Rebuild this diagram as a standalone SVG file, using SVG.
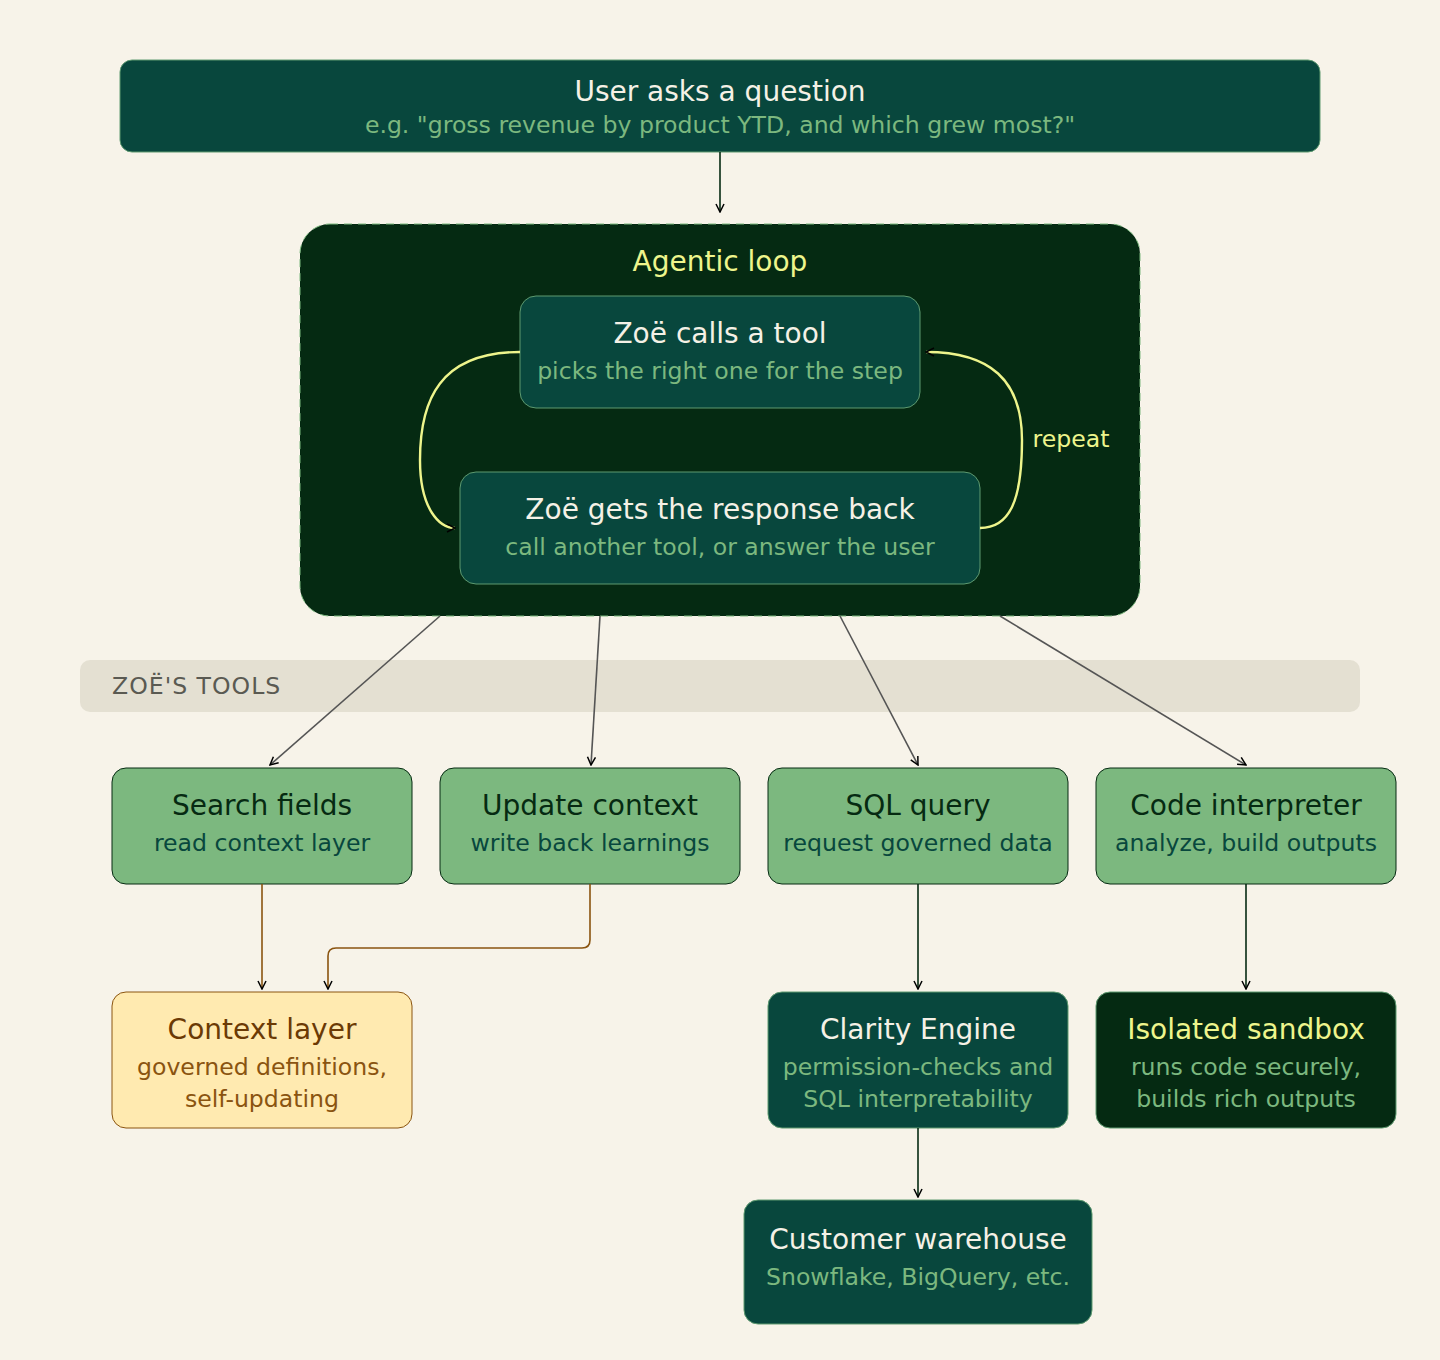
<svg xmlns="http://www.w3.org/2000/svg" width="1440" height="1360" viewBox="0 0 1440 1360">
<style>
text{font-family:"DejaVu Sans",sans-serif;text-anchor:middle}
.t{font-size:28px}.s{font-size:23.6px}
.dk rect{fill:#08473d;stroke:#5e9a70;stroke-width:1}
.dk .t{fill:#f5f1e6}.dk .s{fill:#7cb87f}
.tl rect{fill:#7cb87f;stroke:#062a12;stroke-width:1}
.tl .t{fill:#062a12}.tl .s{fill:#08473d}
.c{fill:none;stroke-width:1.6}
</style>
<defs>
<marker id="a" viewBox="0 0 10 10" refX="9" refY="5" markerWidth="10" markerHeight="10" markerUnits="userSpaceOnUse" orient="auto"><path d="M1,1L9,5L1,9" fill="none" stroke="#000" stroke-width="1.5"/></marker>
</defs>
<rect width="1440" height="1360" fill="#f7f3e9"/>
<g id="user" class="dk"><rect x="120" y="60" width="1200" height="92" rx="12"/><text class="t" x="720" y="101">User asks a question</text><text class="s" x="720" y="133">e.g. "gross revenue by product YTD, and which grew most?"</text></g>
<g id="loop"><rect x="300" y="224" width="840" height="392" rx="30" fill="#052a12" stroke="#7cb87f" stroke-dasharray="8 6"/><text class="t" x="720" y="271" fill="#eef58c">Agentic loop</text></g>
<g id="calls" class="dk"><rect x="520" y="296" width="400" height="112" rx="16"/><text class="t" x="720" y="343">Zoë calls a tool</text><text class="s" x="720" y="379">picks the right one for the step</text></g>
<g id="gets" class="dk"><rect x="460" y="472" width="520" height="112" rx="16"/><text class="t" x="720" y="519">Zoë gets the response back</text><text class="s" x="720" y="555">call another tool, or answer the user</text></g>
<g id="toolsband"><rect x="80" y="660" width="1280" height="52" rx="10" fill="#e4e0d2"/><text x="112" y="694" font-size="23.6" fill="#5a5a52" style="text-anchor:start" letter-spacing="1">ZOË'S TOOLS</text></g>
<g id="search" class="tl"><rect x="112" y="768" width="300" height="116" rx="14"/><text class="t" x="262" y="815">Search fields</text><text class="s" x="262" y="851">read context layer</text></g>
<g id="update" class="tl"><rect x="440" y="768" width="300" height="116" rx="14"/><text class="t" x="590" y="815">Update context</text><text class="s" x="590" y="851">write back learnings</text></g>
<g id="sql" class="tl"><rect x="768" y="768" width="300" height="116" rx="14"/><text class="t" x="918" y="815">SQL query</text><text class="s" x="918" y="851">request governed data</text></g>
<g id="code" class="tl"><rect x="1096" y="768" width="300" height="116" rx="14"/><text class="t" x="1246" y="815">Code interpreter</text><text class="s" x="1246" y="851">analyze, build outputs</text></g>
<g id="context"><rect x="112" y="992" width="300" height="136" rx="14" fill="#ffeab0" stroke="#8a5410"/><text class="t" x="262" y="1039" fill="#6b3a05">Context layer</text><text class="s" x="262" y="1075" fill="#8a5410">governed definitions,</text><text class="s" x="262" y="1107" fill="#8a5410">self-updating</text></g>
<g id="clarity" class="dk"><rect x="768" y="992" width="300" height="136" rx="14"/><text class="t" x="918" y="1039">Clarity Engine</text><text class="s" x="918" y="1075">permission-checks and</text><text class="s" x="918" y="1107">SQL interpretability</text></g>
<g id="sandbox"><rect x="1096" y="992" width="300" height="136" rx="14" fill="#052a12" stroke="#5e9a70"/><text class="t" x="1246" y="1039" fill="#eef58c">Isolated sandbox</text><text class="s" x="1246" y="1075" fill="#7cb87f">runs code securely,</text><text class="s" x="1246" y="1107" fill="#7cb87f">builds rich outputs</text></g>
<g id="warehouse" class="dk"><rect x="744" y="1200" width="348" height="124" rx="14"/><text class="t" x="918" y="1249">Customer warehouse</text><text class="s" x="918" y="1285">Snowflake, BigQuery, etc.</text></g>
<g id="connectors">
<path class="c" d="M720,152V212" stroke="#062a12" marker-end="url(#a)"/>
<path d="M520,352C440,352 420,400 420,460C420,510 440,528 455,528" fill="none" stroke="#eef58c" stroke-width="2.4" marker-end="url(#a)"/>
<path d="M980,528C1010,528 1022,500 1022,440C1022,380 990,352 926,352" fill="none" stroke="#eef58c" stroke-width="2.4" marker-end="url(#a)"/>
<text x="1071" y="447" font-size="23.6" fill="#eef58c">repeat</text>
<g stroke="#555" stroke-width="1.6" fill="none" marker-end="url(#a)">
<path d="M440,616L270,765"/><path d="M600,616L591,765"/><path d="M840,616L918,765"/><path d="M1000,616L1246,765"/>
</g>
<path class="c" d="M262,884V989" stroke="#8a5410" marker-end="url(#a)"/>
<path class="c" d="M590,884V940Q590,948 582,948H336Q328,948 328,956V989" stroke="#8a5410" marker-end="url(#a)"/>
<path class="c" d="M918,884V989" stroke="#062a12" marker-end="url(#a)"/>
<path class="c" d="M1246,884V989" stroke="#062a12" marker-end="url(#a)"/>
<path class="c" d="M918,1128V1197" stroke="#062a12" marker-end="url(#a)"/>
</g>
</svg>
